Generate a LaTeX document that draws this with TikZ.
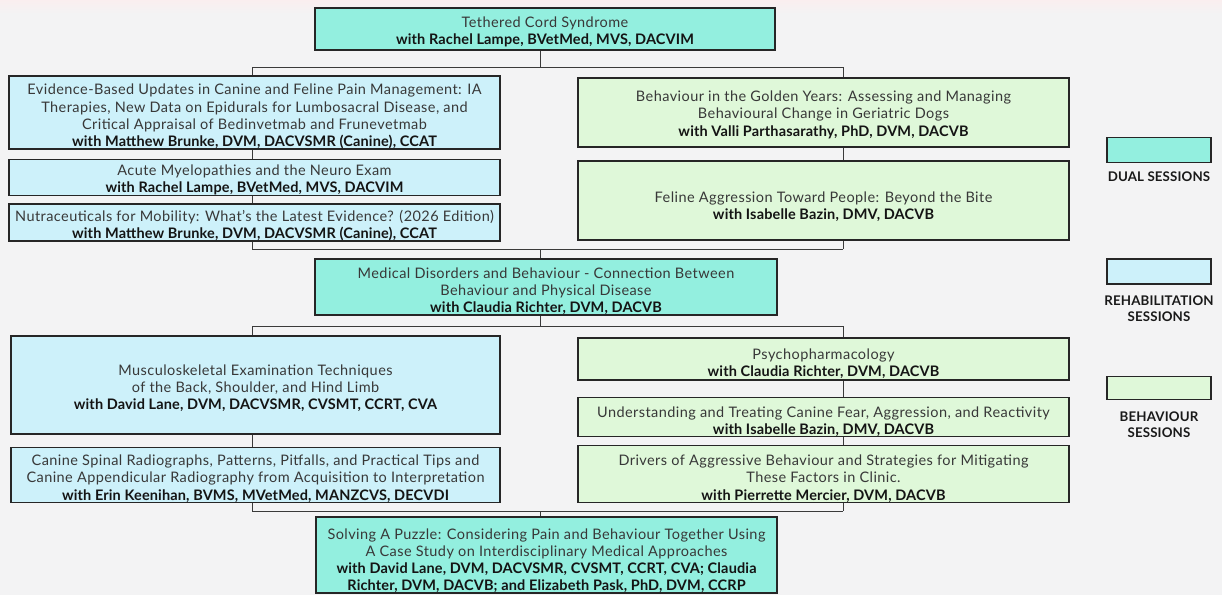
\documentclass[tikz,border=0pt]{standalone}
\usepackage{fontspec}
\setmainfont{Lato}[LetterSpace=3,BoldFeatures={LetterSpace=1}]
\usetikzlibrary{backgrounds}
\definecolor{dualc}{HTML}{93EFDF}
\definecolor{rehabc}{HTML}{CDF1FA}
\definecolor{behc}{HTML}{DFF8D9}
\definecolor{edgec}{HTML}{262626}
\definecolor{linec}{HTML}{3A3A3A}
\definecolor{txtc}{HTML}{383838}
\definecolor{bgc}{HTML}{F3F3F4}
\newcommand\spk[1]{{\bfseries\color{black!92}#1}}
\newcommand\tup[1]{\rule{0pt}{#1pt}}
\begin{document}
\begin{tikzpicture}[x=1pt,y=-1pt,
  box/.style={draw=edgec, line width=1.6pt, align=center, inner sep=0pt,
    font=\fontsize{14.5}{17.3}\selectfont, text=txtc},
  dual/.style={box, fill=dualc},
  rehab/.style={box, fill=rehabc},
  beh/.style={box, fill=behc},
  legtext/.style={align=center, font=\fontsize{13.3}{16.5}\selectfont\bfseries, text=black!90},
  conn/.style={draw=linec, line width=0.9pt}]
\useasboundingbox (0,0) rectangle (1222,595);
% ---- top dual
\node[dual, minimum width=460pt, minimum height=42pt] (t1) at (545,29)
  {\tup{17}Tethered Cord Syndrome\\ \spk{with Rachel Lampe, BVetMed, MVS, DACVIM}};
% ---- left column (rehab)
\node[rehab, minimum width=491pt, minimum height=71pt] (l1) at (254.5,112.5)
  {\tup{19}Evidence-Based Updates in Canine and Feline Pain Management: IA\\
   Therapies, New Data on Epidurals for Lumbosacral Disease, and\\
   Critical Appraisal of Bedinvetmab and Frunevetmab\\
   \spk{with Matthew Brunke, DVM, DACVSMR (Canine), CCAT}};
\node[rehab, minimum width=491pt, minimum height=35pt] (l2) at (254.5,177.5)
  {\tup{16}Acute Myelopathies and the Neuro Exam\\ \spk{with Rachel Lampe, BVetMed, MVS, DACVIM}};
\node[rehab, minimum width=491pt, minimum height=35pt] (l3) at (254.5,222.5)
  {\tup{17}Nutraceuticals for Mobility: What's the Latest Evidence? (2026 Edition)\\
   \spk{with Matthew Brunke, DVM, DACVSMR (Canine), CCAT}};
% ---- right column (behaviour)
\node[beh, minimum width=491pt, minimum height=69pt] (r1) at (823.5,112.5)
  {\tup{15}Behaviour in the Golden Years: Assessing and Managing\\
   Behavioural Change in Geriatric Dogs\\
   \spk{with Valli Parthasarathy, PhD, DVM, DACVB}};
\node[beh, minimum width=491pt, minimum height=79pt] (r2) at (823.5,200.5)
  {\tup{23}Feline Aggression Toward People: Beyond the Bite\\ \spk{with Isabelle Bazin, DMV, DACVB}};
% ---- middle dual
\node[dual, minimum width=462pt, minimum height=52pt] (m) at (546,287)
  {\tup{19}Medical Disorders and Behaviour - Connection Between\\
   Behaviour and Physical Disease\\ \spk{with Claudia Richter, DVM, DACVB}};
% ---- lower left
\node[rehab, minimum width=489pt, minimum height=98pt] (l4) at (255.5,385)
  {\tup{17}Musculoskeletal Examination Techniques\\ of the Back, Shoulder, and Hind Limb\\
   \spk{with David Lane, DVM, DACVSMR, CVSMT, CCRT, CVA}};
\node[rehab, minimum width=489pt, minimum height=52pt] (l5) at (255.5,475)
  {\tup{18}Canine Spinal Radiographs, Patterns, Pitfalls, and Practical Tips and\\
   Canine Appendicular Radiography from Acquisition to Interpretation\\
   \spk{with Erin Keenihan, BVMS, MVetMed, MANZCVS, DECVDI}};
% ---- lower right
\node[beh, minimum width=491pt, minimum height=42pt] (r3) at (823.5,359)
  {\tup{20}Psychopharmacology\\ \spk{with Claudia Richter, DVM, DACVB}};
\node[beh, minimum width=491pt, minimum height=38pt] (r4) at (823.5,417)
  {\tup{20}Understanding and Treating Canine Fear, Aggression, and Reactivity\\
   \spk{with Isabelle Bazin, DMV, DACVB}};
\node[beh, minimum width=491pt, minimum height=54pt] (r5) at (823.5,474)
  {\tup{20}Drivers of Aggressive Behaviour and Strategies for Mitigating\\
   These Factors in Clinic.\\ \spk{with Pierrette Mercier, DVM, DACVB}};
% ---- bottom dual
\node[dual, minimum width=461pt, minimum height=72pt] (b) at (546.5,555)
  {\tup{22}Solving A Puzzle: Considering Pain and Behaviour Together Using\\
   A Case Study on Interdisciplinary Medical Approaches\\
   \spk{with David Lane, DVM, DACVSMR, CVSMT, CCRT, CVA; Claudia}\\
   \spk{Richter, DVM, DACVB; and Elizabeth Pask, PhD, DVM, CCRP}};
% ---- legend
\node[dual, minimum width=104pt, minimum height=25pt] (lg1) at (1159,150) {};
\node[legtext] (lt1) at (1159,177) {DUAL SESSIONS};
\node[rehab, minimum width=104pt, minimum height=25pt] (lg2) at (1159,271.5) {};
\node[legtext] (lt2) at (1159,308.5) {REHABILITATION\\SESSIONS};
\node[beh, minimum width=104pt, minimum height=23pt] (lg3) at (1159,388) {};
\node[legtext] (lt3) at (1159,424.5) {BEHAVIOUR\\SESSIONS};
% ---- junction coordinates
\coordinate (a1) at (540,67);  \coordinate (a2) at (252,67);  \coordinate (a3) at (843,67);
\coordinate (b1) at (540,249); \coordinate (b2) at (252,249); \coordinate (b3) at (843,249);
\coordinate (c1) at (540,326); \coordinate (c2) at (252,326); \coordinate (c3) at (843,326);
\coordinate (d1) at (540,511); \coordinate (d2) at (252,511); \coordinate (d3) at (843,511);
\begin{scope}[on background layer]
\fill[bgc] (0,0) rectangle (1222,595);
\fill[top color=bgc!70!pink!60!white, bottom color=bgc] (0,0) rectangle (1222,14);
\draw[conn] (a1 |- t1.south) -- (a1);
\draw[conn] (a2) -- (a3);
\draw[conn] (a2) -- (b2);
\draw[conn] (a3) -- (b3);
\draw[conn] (b2) -- (b3);
\draw[conn] (b1) -- (b1 |- m.north);
\draw[conn] (c1 |- m.south) -- (c1);
\draw[conn] (c2) -- (c3);
\draw[conn] (c2) -- (d2);
\draw[conn] (c3) -- (d3);
\draw[conn] (d2) -- (d3);
\draw[conn] (d1) -- (d1 |- b.north);
\end{scope}
\end{tikzpicture}
\end{document}
